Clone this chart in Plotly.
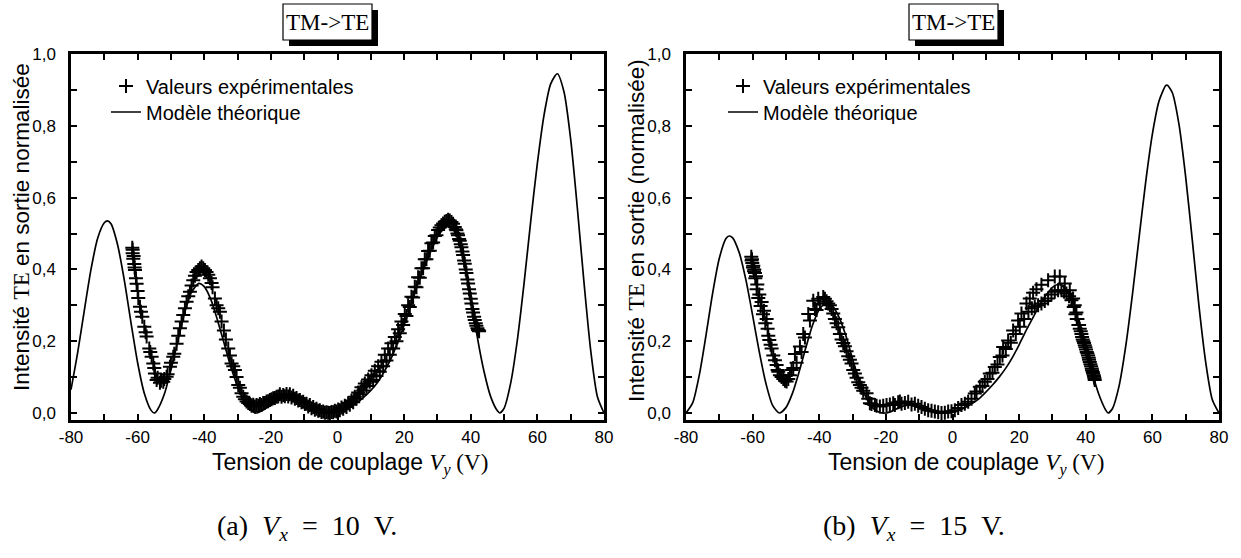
import plotly.graph_objects as go

W, H = 1241, 558


def px(x):
    return x / W


def py(y):
    return 1 - y / H


# ---------------- data ----------------
x_ticks = [-80, -60, -40, -20, 0, 20, 40, 60, 80]
x_tick_labels = ["-80", "-60", "-40", "-20", "0", "20", "40", "60", "80"]
y_ticks = [0.0, 0.2, 0.4, 0.6, 0.8, 1.0]
y_tick_labels = ["0,0", "0,2", "0,4", "0,6", "0,8", "1,0"]

# (a) Vx = 10 V : theoretical model
V_th_a = [-80, -78, -76, -74, -72, -70, -69, -68, -66, -64, -62, -60, -58, -56, -55, -54, -52, -50,
          -48, -46, -44, -42, -41.5, -40, -38, -36, -34, -32, -30, -28, -26, -24.5, -22, -20, -18,
          -16, -14, -12, -10, -8, -6, -3, 0, 2, 4, 6, 8, 10, 12, 14, 16, 18, 20, 22, 24, 26, 28,
          30, 32, 33, 34, 36, 38, 40, 42, 44, 46, 48, 48.7, 50, 52, 54, 56, 58, 60, 62, 64, 66,
          68, 70, 72, 74, 76, 78, 80]
I_th_a = [0.065, 0.168, 0.286, 0.400, 0.487, 0.530, 0.535, 0.527, 0.468, 0.370, 0.252, 0.140,
          0.055, 0.008, 0.000, 0.010, 0.052, 0.120, 0.198, 0.275, 0.333, 0.359, 0.361, 0.352,
          0.316, 0.258, 0.193, 0.128, 0.074, 0.034, 0.009, 0.000, 0.010, 0.024, 0.036, 0.042,
          0.040, 0.032, 0.021, 0.011, 0.004, 0.000, 0.003, 0.010, 0.019, 0.030, 0.045, 0.063,
          0.085, 0.115, 0.150, 0.195, 0.245, 0.300, 0.355, 0.405, 0.450, 0.490, 0.516, 0.521,
          0.518, 0.492, 0.430, 0.330, 0.210, 0.115, 0.045, 0.006, 0.000, 0.013, 0.084, 0.204,
          0.361, 0.534, 0.696, 0.830, 0.917, 0.945, 0.894, 0.762, 0.571, 0.363, 0.175, 0.046,
          0.000]

# (a) experimental values, first sweep
V_exp_a1 = [-61.6, -61.5, -61.3, -61.0, -60.8, -60.5, -60.3, -59.8, -59.3, -58.6, -58.0, -57.3,
            -56.5, -55.8, -55.3, -54.8, -54.3, -53.3, -52.3, -51.3, -50.3, -49.3, -48.3, -47.3,
            -46.3, -45.3, -44.3, -43.3, -42.3, -41.3, -40.3, -39.3, -38.3, -37.5, -36.8, -35.3,
            -34.1, -32.8, -31.8, -30.8, -29.8, -28.8, -27.3, -26.3, -25.3, -24.3, -23.3, -22.3,
            -21.3, -20.3, -19.3, -18.3, -17.3, -16.3, -15.3, -14.3, -13.3, -12.3, -11.3, -10.3,
            -9.3, -8.3, -7.3, -6.3, -5.3, -4.3, -3.3, -2.8, -1.8, -0.8, 0.2, 1.2, 2.2, 3.2, 4.2,
            5.2, 6.2, 7.2, 8.2, 9.2, 10.2, 11.2, 12.2, 13.2, 14.2, 15.2, 16.2, 17.2, 18.2, 19.2,
            20.2, 21.2, 22.2, 23.2, 24.2, 25.2, 26.2, 27.2, 28.2, 29.2, 30.2, 31.2, 32.2, 33.2,
            34.2, 35.2, 35.7, 36.2, 36.7, 37.2, 37.7, 38.2, 38.7, 39.2, 39.7, 40.2, 40.7, 41.2,
            41.7, 42.2, 42.5]
I_exp_a1 = [0.460, 0.445, 0.430, 0.415, 0.398, 0.375, 0.360, 0.320, 0.296, 0.268, 0.240, 0.213,
            0.180, 0.157, 0.138, 0.110, 0.092, 0.084, 0.087, 0.101, 0.129, 0.157, 0.193, 0.236,
            0.273, 0.310, 0.338, 0.370, 0.393, 0.403, 0.403, 0.393, 0.375, 0.350, 0.319, 0.282,
            0.230, 0.180, 0.138, 0.120, 0.078, 0.055, 0.032, 0.025, 0.023, 0.022, 0.025, 0.028,
            0.032, 0.036, 0.041, 0.045, 0.052, 0.050, 0.053, 0.052, 0.048, 0.042, 0.036, 0.031,
            0.026, 0.022, 0.017, 0.012, 0.008, 0.004, 0.002, 0.001, 0.003, 0.006, 0.010, 0.015,
            0.020, 0.027, 0.035, 0.045, 0.057, 0.072, 0.082, 0.093, 0.105, 0.118, 0.130, 0.143,
            0.162, 0.180, 0.194, 0.212, 0.233, 0.255, 0.276, 0.300, 0.324, 0.352, 0.378, 0.403,
            0.428, 0.451, 0.473, 0.493, 0.510, 0.523, 0.533, 0.538, 0.532, 0.518, 0.509, 0.495,
            0.480, 0.462, 0.440, 0.416, 0.390, 0.361, 0.333, 0.305, 0.280, 0.259, 0.243, 0.231,
            0.228]

# (a) experimental values, second sweep
V_exp_a2 = [-61.5, -61.2, -60.9, -60.0, -59.0, -57.6, -56.2, -55.0, -54.0, -53.0, -52.0, -51.0,
            -50.0, -49.0, -47.8, -46.8, -45.8, -44.8, -43.8, -42.8, -41.8, -40.8, -39.8, -38.8,
            -37.8, -36.3, -35.8, -34.8, -33.5, -32.3, -31.3, -30.3, -29.3, -28.3, -27.8, -26.8,
            -25.8, -24.8, -23.8, -22.8, -21.8, -20.8, -19.8, -18.8, -17.8, -16.8, -15.8, -14.8,
            -13.8, -12.8, -11.8, -10.8, -9.8, -8.8, -7.8, -6.8, -5.8, -4.8, -3.8, -2.3, -1.3,
            -0.3, 0.7, 1.7, 2.7, 3.7, 4.7, 5.7, 6.7, 7.7, 8.7, 9.7, 10.7, 11.7, 12.7, 13.7, 14.7,
            15.7, 16.7, 17.7, 18.7, 19.7, 20.7, 21.7, 22.7, 23.7, 24.7, 25.7, 26.7, 27.7, 28.7,
            29.7, 30.7, 31.7, 32.7, 33.7, 34.7, 35.5, 36.0, 36.5, 37.0, 37.5, 38.0, 38.5, 39.0,
            39.5, 40.0, 40.5, 41.0, 41.5, 42.0, 42.4]
I_exp_a2 = [0.455, 0.437, 0.405, 0.340, 0.282, 0.225, 0.170, 0.125, 0.098, 0.090, 0.095, 0.108,
            0.140, 0.165, 0.215, 0.255, 0.292, 0.325, 0.355, 0.382, 0.398, 0.408, 0.398, 0.385,
            0.362, 0.300, 0.292, 0.255, 0.205, 0.160, 0.130, 0.100, 0.070, 0.045, 0.038, 0.028,
            0.020, 0.018, 0.020, 0.022, 0.028, 0.033, 0.038, 0.042, 0.046, 0.045, 0.047, 0.046,
            0.043, 0.040, 0.035, 0.030, 0.025, 0.018, 0.013, 0.009, 0.006, 0.003, 0.001, 0.000,
            0.002, 0.004, 0.008, 0.012, 0.017, 0.023, 0.030, 0.040, 0.052, 0.063, 0.075, 0.087,
            0.092, 0.103, 0.115, 0.130, 0.146, 0.162, 0.180, 0.200, 0.222, 0.245, 0.270, 0.295,
            0.322, 0.350, 0.377, 0.403, 0.428, 0.452, 0.475, 0.495, 0.517, 0.528, 0.535, 0.536,
            0.527, 0.512, 0.500, 0.485, 0.470, 0.450, 0.425, 0.400, 0.372, 0.345, 0.318, 0.290,
            0.268, 0.250, 0.236, 0.230]

# (b) Vx = 15 V : theoretical model
V_th_b = [-80, -78, -76, -74, -72, -70, -68, -67, -66, -64, -62, -60, -58, -56, -54, -52, -50,
          -48, -46, -44, -42, -40, -38, -36, -34, -32, -30, -28, -26, -24, -22, -20, -18, -16,
          -14, -12, -10, -8, -6, -4, -2, 0, 2, 4, 6, 8, 10, 12, 14, 16, 18, 20, 22, 24, 26, 28,
          30, 31.5, 33, 34, 36, 38, 40, 42, 44, 46, 46.7, 48, 50, 52, 54, 56, 58, 60, 62, 64,
          64.5, 66, 68, 70, 72, 74, 76, 78, 80]
I_th_b = [0.000, 0.028, 0.106, 0.216, 0.334, 0.431, 0.486, 0.493, 0.488, 0.446, 0.370, 0.272,
          0.170, 0.082, 0.021, 0.000, 0.015, 0.056, 0.116, 0.183, 0.245, 0.288, 0.306, 0.297,
          0.266, 0.215, 0.150, 0.090, 0.045, 0.015, 0.002, 0.000, 0.006, 0.015, 0.021, 0.021,
          0.016, 0.009, 0.004, 0.001, 0.000, 0.002, 0.008, 0.016, 0.027, 0.040, 0.058, 0.078,
          0.100, 0.125, 0.155, 0.190, 0.228, 0.263, 0.298, 0.327, 0.350, 0.358, 0.354, 0.345,
          0.310, 0.250, 0.180, 0.110, 0.050, 0.008, 0.000, 0.012, 0.075, 0.186, 0.329, 0.488,
          0.644, 0.777, 0.869, 0.912, 0.913, 0.892, 0.803, 0.657, 0.480, 0.297, 0.142, 0.037,
          0.000]

# (b) experimental values, first sweep
V_exp_b1 = [-60.4, -60.3, -60.1, -59.8, -59.5, -59.3, -59.0, -58.6, -58.0, -57.3, -56.6, -55.8,
            -55.5, -55.0, -54.3, -53.3, -52.8, -52.3, -51.3, -50.3, -49.3, -48.3, -47.3, -45.8,
            -44.8, -43.3, -41.8, -40.3, -38.8, -37.8, -36.8, -35.3, -34.3, -33.3, -32.3, -31.3,
            -30.3, -29.3, -28.3, -27.3, -25.8, -24.8, -23.3, -21.8, -19.8, -17.8, -16.3, -15.3,
            -13.3, -11.3, -9.3, -7.3, -5.3, -3.3, -1.3, 0.7, 2.7, 4.7, 6.7, 8.2, 9.7, 11.2, 12.7,
            14.2, 15.2, 16.7, 18.2, 19.7, 20.7, 22.2, 23.2, 24.2, 25.2, 26.7, 28.7, 30.7, 32.2,
            33.7, 35.2, 36.2, 36.7, 37.2, 37.5, 38.0, 38.5, 38.9, 39.3, 39.7, 40.1, 40.5, 40.9,
            41.2, 41.6, 41.9, 42.2, 42.5, 42.7]
I_exp_b1 = [0.435, 0.425, 0.418, 0.410, 0.400, 0.390, 0.381, 0.358, 0.330, 0.309, 0.285, 0.262,
            0.235, 0.203, 0.180, 0.147, 0.134, 0.115, 0.100, 0.090, 0.095, 0.120, 0.164, 0.185,
            0.220, 0.276, 0.313, 0.318, 0.323, 0.311, 0.300, 0.262, 0.239, 0.205, 0.186, 0.158,
            0.138, 0.110, 0.086, 0.070, 0.055, 0.027, 0.022, 0.018, 0.022, 0.027, 0.030, 0.026,
            0.031, 0.026, 0.017, 0.008, 0.004, 0.000, 0.004, 0.008, 0.022, 0.031, 0.054, 0.073,
            0.087, 0.110, 0.128, 0.156, 0.184, 0.202, 0.230, 0.258, 0.277, 0.305, 0.319, 0.335,
            0.345, 0.357, 0.370, 0.380, 0.380, 0.361, 0.342, 0.319, 0.300, 0.280, 0.262, 0.245,
            0.228, 0.212, 0.200, 0.189, 0.177, 0.166, 0.154, 0.142, 0.130, 0.119, 0.110, 0.101,
            0.092]

# (b) experimental values, second sweep
V_exp_b2 = [-60.2, -59.9, -59.6, -59.2, -58.8, -58.3, -57.6, -56.9, -56.2, -55.3, -54.6, -53.8,
            -52.5, -51.8, -50.8, -49.8, -48.8, -47.8, -46.8, -45.3, -44.3, -42.8, -41.3, -40.8,
            -39.8, -38.3, -37.3, -36.3, -35.8, -34.8, -33.8, -32.8, -31.8, -30.8, -29.8, -28.8,
            -27.8, -26.8, -25.3, -24.3, -22.8, -20.8, -18.8, -17.3, -15.8, -14.3, -12.3, -10.3,
            -8.3, -6.3, -4.3, -2.3, -0.3, 1.7, 3.7, 5.7, 7.2, 9.0, 10.5, 12.0, 13.5, 15.0, 16.0,
            17.5, 19.0, 20.2, 21.5, 22.8, 23.8, 24.7, 25.7, 26.7, 27.7, 28.7, 29.7, 30.7, 31.7,
            32.7, 33.5, 34.2, 35.0, 35.7, 36.4, 36.9, 37.3, 37.8, 38.2, 38.7, 39.1, 39.5, 39.9,
            40.3, 40.7, 41.0, 41.4, 41.8, 42.1, 42.4, 42.6]
I_exp_b2 = [0.428, 0.405, 0.395, 0.375, 0.345, 0.320, 0.298, 0.275, 0.250, 0.215, 0.190, 0.160,
            0.120, 0.105, 0.095, 0.088, 0.105, 0.125, 0.140, 0.170, 0.210, 0.258, 0.290, 0.287,
            0.305, 0.318, 0.305, 0.290, 0.277, 0.250, 0.220, 0.195, 0.172, 0.148, 0.120, 0.098,
            0.078, 0.062, 0.040, 0.025, 0.020, 0.020, 0.024, 0.022, 0.032, 0.028, 0.024, 0.020,
            0.012, 0.006, 0.002, 0.001, 0.005, 0.014, 0.026, 0.040, 0.060, 0.075, 0.095, 0.112,
            0.135, 0.160, 0.178, 0.196, 0.220, 0.240, 0.262, 0.282, 0.292, 0.296, 0.300, 0.305,
            0.312, 0.319, 0.330, 0.338, 0.342, 0.342, 0.338, 0.333, 0.325, 0.314, 0.295, 0.275,
            0.262, 0.245, 0.235, 0.220, 0.205, 0.195, 0.183, 0.170, 0.160, 0.148, 0.136, 0.124,
            0.114, 0.105, 0.097]

legend_labels = ["Valeurs expérimentales", "Modèle théorique"]
panel_titles = ["TM-&gt;TE", "TM-&gt;TE"]
y_titles = ["Intensité <span style='font-family:Liberation Serif'>TE</span> en sortie normalisée",
            "Intensité <span style='font-family:Liberation Serif'>TE</span> en sortie (normalisée)"]
x_title = ("Tension de couplage <span style='font-family:Liberation Serif'><i>V</i>"
           "<sub><i>y</i></sub> (V)</span>")
captions = ["(a)\u2002<i>V</i><sub><i>x</i></sub>\u2002=\u200210\u2002V.",
            "(b)\u2002<i>V</i><sub><i>x</i></sub>\u2002=\u200215\u2002V."]

# ---------------- figure ----------------
SANS = "Liberation Sans, Arial, sans-serif"
NARROW = "Liberation Sans Narrow, Arial Narrow, Liberation Sans, sans-serif"
SERIF = "Liberation Serif, Times New Roman, serif"

fig = go.Figure()

mk = dict(symbol="cross-thin", size=10, color="black", line=dict(width=2, color="black"))
panels = [
    ("x", "y", ("legend", "legend2"), V_exp_a1 + V_exp_a2, I_exp_a1 + I_exp_a2, V_th_a, I_th_a),
    ("x2", "y2", ("legend3", "legend4"), V_exp_b1 + V_exp_b2, I_exp_b1 + I_exp_b2, V_th_b, I_th_b),
]
for xa, ya, lgs, vx, vy, tx, ty in panels:
    fig.add_trace(go.Scatter(x=vx, y=vy, mode="markers", marker=mk, name=legend_labels[0],
                             xaxis=xa, yaxis=ya, legend=lgs[0]))
    fig.add_trace(go.Scatter(x=tx, y=ty, mode="lines", name=legend_labels[1],
                             line=dict(color="black", width=1.7, shape="spline", smoothing=0.7),
                             xaxis=xa, yaxis=ya, legend=lgs[1]))

axis_common = dict(
    ticks="inside", ticklen=6, tickwidth=2, tickcolor="black",
    showline=True, linewidth=2.5, linecolor="black", mirror="ticks",
    showgrid=False, zeroline=False, automargin=False,
    tickfont=dict(family=NARROW, size=17, color="black"),
)
x_common = dict(axis_common, range=[-80, 80], tickmode="array", tickvals=x_ticks,
                ticktext=x_tick_labels, ticklabelstandoff=0,
                minor=dict(tick0=0, dtick=10, ticks="inside", ticklen=6, tickwidth=2,
                           tickcolor="black", showgrid=False))
y_common = dict(axis_common, range=[-0.0195, 1.0], tickmode="array", tickvals=y_ticks,
                ticktext=y_tick_labels, ticklabelstandoff=9,
                minor=dict(tick0=0, dtick=0.1, ticks="inside", ticklen=6, tickwidth=2,
                           tickcolor="black", showgrid=False))


def leg(xp, yp):
    return dict(x=px(xp), y=py(yp), xanchor="left", yanchor="middle", bgcolor="rgba(0,0,0,0)",
                font=dict(family=SANS, size=20, color="black"))


ydom = [py(420), py(54)]
fig.update_layout(
    width=W, height=H, margin=dict(l=0, r=0, t=0, b=0, autoexpand=False),
    paper_bgcolor="white", plot_bgcolor="white",
    font=dict(family=SANS, color="black"),
    xaxis=dict(x_common, domain=[px(71), px(604)], anchor="y"),
    yaxis=dict(y_common, domain=ydom, anchor="x"),
    xaxis2=dict(x_common, domain=[px(686), px(1219)], anchor="y2"),
    yaxis2=dict(y_common, domain=ydom, anchor="x2"),
    legend=leg(106, 86), legend2=leg(106, 112),
    legend3=leg(723, 86), legend4=leg(723, 112),
    showlegend=True,
)

shapes = []
annotations = []
boxes = [(283, 372), (909, 998)]
for (bx0, bx1), ttl in zip(boxes, panel_titles):
    shapes.append(dict(type="rect", xref="paper", yref="paper", x0=px(bx0 + 6), x1=px(bx1 + 6),
                       y0=py(46), y1=py(10), fillcolor="black", line=dict(width=0)))
    shapes.append(dict(type="rect", xref="paper", yref="paper", x0=px(bx0), x1=px(bx1),
                       y0=py(40), y1=py(4), fillcolor="white", line=dict(width=1.2, color="black")))
    annotations.append(dict(text=ttl, x=px((bx0 + bx1) / 2), y=py(22), xref="paper", yref="paper",
                            xanchor="center", yanchor="middle", showarrow=False,
                            font=dict(family=SERIF, size=23, color="black")))

for xc, yc, t in [(21, 227, y_titles[0]), (636, 231, y_titles[1])]:
    annotations.append(dict(text=t, x=px(xc), y=py(yc), xref="paper", yref="paper",
                            xanchor="center", yanchor="middle", textangle=-90, showarrow=False,
                            font=dict(family=SANS, size=22.5, color="black")))
for xc in (350, 966):
    annotations.append(dict(text=x_title, x=px(xc), y=py(464), xref="paper", yref="paper",
                            xanchor="center", yanchor="middle", showarrow=False,
                            font=dict(family=SANS, size=23, color="black")))
for xc, t in [(307, captions[0]), (914, captions[1])]:
    annotations.append(dict(text=t, x=px(xc), y=py(527), xref="paper", yref="paper",
                            xanchor="center", yanchor="middle", showarrow=False,
                            font=dict(family=SERIF, size=28, color="black")))

fig.update_layout(shapes=shapes, annotations=annotations)
# remove the browser's default 8 px body margin so the figure fills the window exactly
fig.write_html("out.html", config={"displayModeBar": False},
               post_script="document.body.style.margin='0px';")
